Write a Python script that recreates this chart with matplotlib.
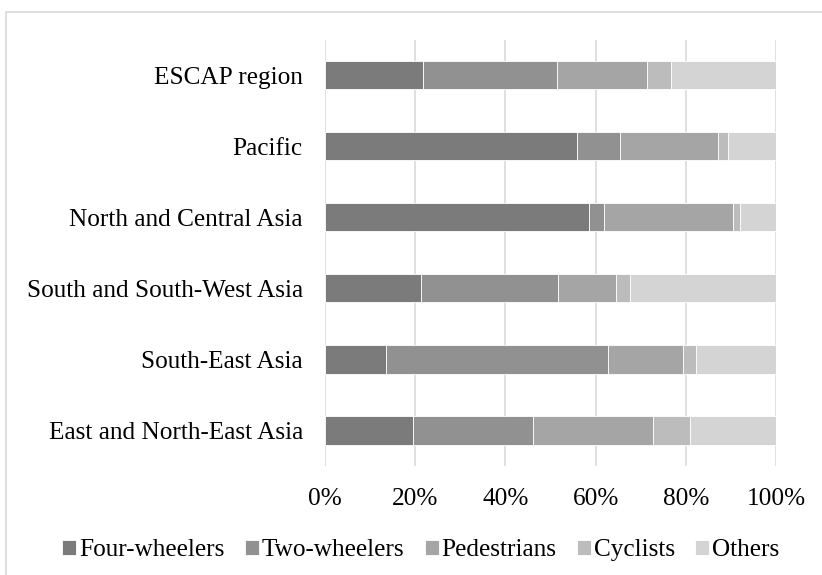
import numpy as np
import matplotlib.pyplot as plt
from matplotlib.patches import Rectangle

plt.rcParams['font.family'] = ['Liberation Serif', 'DejaVu Serif']

# regions listed bottom to top
regions = ["East and North-East Asia", "South-East Asia", "South and South-West Asia",
           "North and Central Asia", "Pacific", "ESCAP region"]
four_wheelers = [19.5, 13.6, 21.3, 58.6, 55.9, 21.8]
two_wheelers = [26.7, 49.1, 30.4, 3.3, 9.4, 29.6]
pedestrians = [26.6, 16.7, 12.8, 28.6, 21.9, 20.0]
cyclists = [8.2, 2.9, 3.2, 1.5, 2.2, 5.2]
others = [19.0, 17.7, 32.3, 8.0, 10.6, 23.4]

series = [("Four-wheelers", four_wheelers, "#7b7b7b"),
          ("Two-wheelers", two_wheelers, "#919191"),
          ("Pedestrians", pedestrians, "#a5a5a5"),
          ("Cyclists", cyclists, "#bcbcbc"),
          ("Others", others, "#d4d4d4")]

fig = plt.figure(figsize=(8.22, 5.75), dpi=100)
ax = fig.add_axes([0.3954, 0.1896, 0.5487, 0.7417])

y = np.arange(len(regions))
left = np.zeros(len(regions))
for name, vals, col in series:
    vals = np.array(vals)
    ax.barh(y, vals, left=left, height=0.4, color=col, label=name,
            edgecolor="white", linewidth=0.6, zorder=3)
    left += vals

ax.set_xlim(0, 100)
ax.set_ylim(-0.5, len(regions) - 0.5)
ax.set_yticks(y)
ax.set_yticklabels(regions)
ax.set_xticks([0, 20, 40, 60, 80, 100])
ax.set_xticklabels(["0%", "20%", "40%", "60%", "80%", "100%"])
ax.tick_params(axis="both", length=0, labelsize=18.2, colors="black")
ax.tick_params(axis="x", pad=16)
ax.tick_params(axis="y", pad=16)
ax.grid(axis="x", color="#dadada", linewidth=1.2, zorder=0)
for s in ax.spines.values():
    s.set_visible(False)

leg = fig.legend(loc="center", bbox_to_anchor=(0.512, 0.043), ncol=5, frameon=False,
                 fontsize=18.2, handlelength=0.55, handleheight=0.55,
                 handletextpad=0.12, columnspacing=0.8, borderpad=0)

# outer chart frame
fig.patches.append(Rectangle((6 / 822, -0.1), 1.2, 1 - 12 / 575 + 0.1,
                             transform=fig.transFigure, fill=False,
                             edgecolor="#d9d9d9", linewidth=1.2))

fig.savefig("out.png", dpi=100)
